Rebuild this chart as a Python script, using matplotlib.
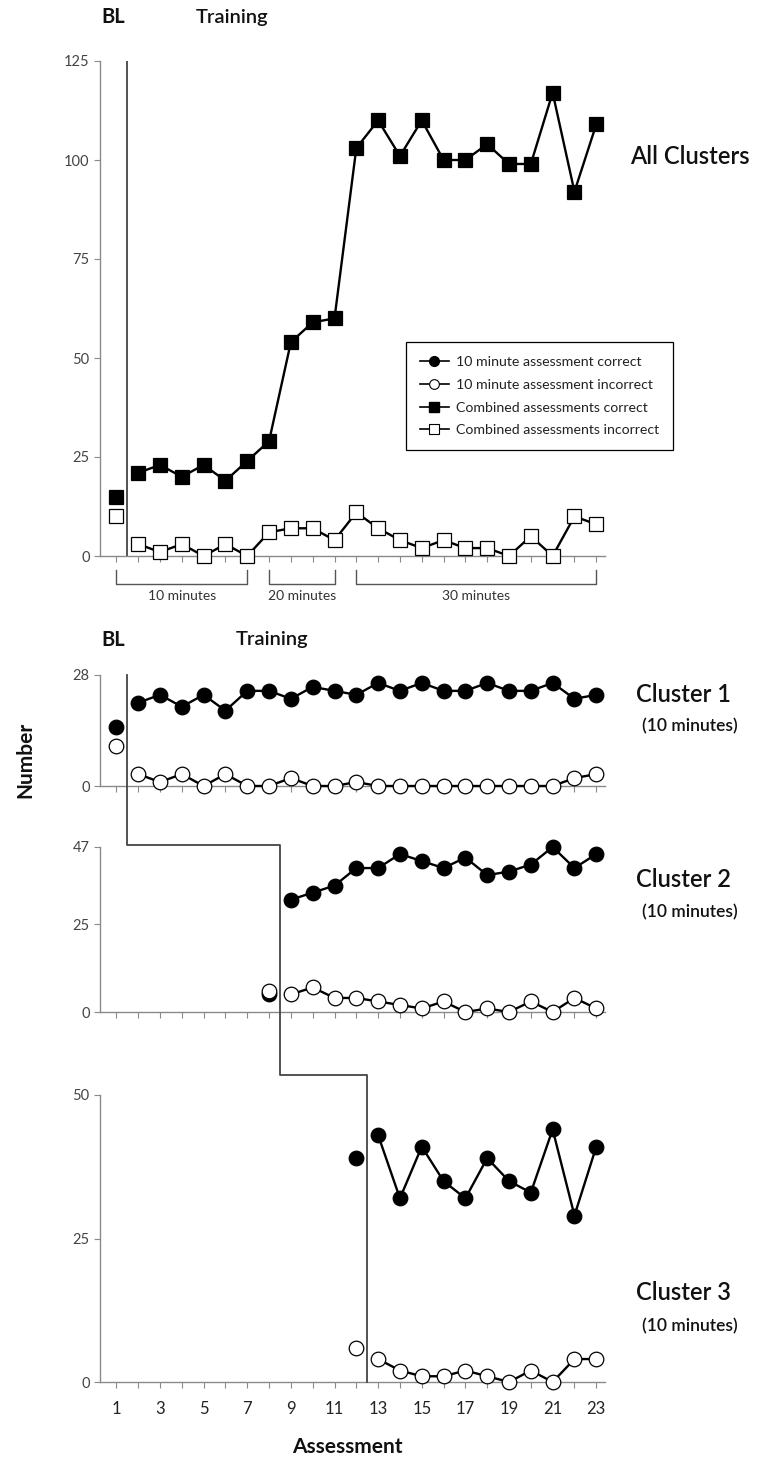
import numpy as np
import matplotlib
matplotlib.use('Agg')
import matplotlib.pyplot as plt
from matplotlib.lines import Line2D

plt.rcParams['font.family'] = ['Lato', 'DejaVu Sans']

# ---------------------------------------------------------------- data
assess = np.arange(1, 24)

# all clusters, combined assessments
all_correct = [15, 21, 23, 20, 23, 19, 24, 29, 54, 59, 60, 103, 110, 101, 110,
               100, 100, 104, 99, 99, 117, 92, 109]
all_incorrect = [10, 3, 1, 3, 0, 3, 0, 6, 7, 7, 4, 11, 7, 4, 2, 4, 2, 2, 0, 5,
                 0, 10, 8]

# cluster 1 (baseline = assessment 1)
c1_x = np.arange(1, 24)
c1_correct = [15, 21, 23, 20, 23, 19, 24, 24, 22, 25, 24, 23, 26, 24, 26, 24,
              24, 26, 24, 24, 26, 22, 23]
c1_incorrect = [10, 3, 1, 3, 0, 3, 0, 0, 2, 0, 0, 1, 0, 0, 0, 0, 0, 0, 0, 0,
                0, 2, 3]

# cluster 2 (baseline = assessment 8)
c2_x = np.arange(8, 24)
c2_correct = [5, 32, 34, 36, 41, 41, 45, 43, 41, 44, 39, 40, 42, 47, 41, 45]
c2_incorrect = [6, 5, 7, 4, 4, 3, 2, 1, 3, 0, 1, 0, 3, 0, 4, 1]

# cluster 3 (baseline = assessment 12)
c3_x = np.arange(12, 24)
c3_correct = [39, 43, 32, 41, 35, 32, 39, 35, 33, 44, 29, 41]
c3_incorrect = [6, 4, 2, 1, 1, 2, 1, 0, 2, 0, 4, 4]

# session length brackets under the top panel
bracket_start = [1, 8, 12]
bracket_end = [7, 11, 23]
bracket_labels = ['10 minutes', '20 minutes', '30 minutes']

legend_labels = ['10 minute assessment correct', '10 minute assessment incorrect',
                 'Combined assessments correct', 'Combined assessments incorrect']

# ---------------------------------------------------------------- layout
W, H = 767, 1469
fig = plt.figure(figsize=(W / 100, H / 100), dpi=100)


def fx(px):
    return px / W


def fy(py):
    return 1 - py / H


def rect(top, bottom):
    return [fx(100), fy(bottom), fx(605) - fx(100), (bottom - top) / H]


AX_GRAY = '#8a8a8a'


def style(ax, ymax, yticks):
    ax.set_xlim(0.25, 23.4)
    ax.set_ylim(0, ymax)
    for s in ['top', 'right']:
        ax.spines[s].set_visible(False)
    for s in ['left', 'bottom']:
        ax.spines[s].set_color(AX_GRAY)
        ax.spines[s].set_linewidth(1)
    ax.set_yticks(yticks)
    ax.set_xticks(assess)
    ax.set_xticklabels([])
    ax.tick_params(axis='both', color=AX_GRAY, length=4, width=0.8,
                   labelcolor='#444444', labelsize=10.5)
    ax.patch.set_alpha(0)


def draw(ax, x, y, marker, filled, n_bl=1, ms=10.5):
    fc = 'black' if filled else 'white'
    kw = dict(marker=marker, ms=ms, mfc=fc, mec='black', mew=0.9,
              color='black', lw=1.7, zorder=3, clip_on=False)
    ax.plot(x[:n_bl], y[:n_bl], ls='none', **kw)
    ax.plot(x[n_bl:], y[n_bl:], **kw)


ax0 = fig.add_axes(rect(61, 556))
ax1 = fig.add_axes(rect(675, 786))
ax2 = fig.add_axes(rect(847, 1012))
ax3 = fig.add_axes(rect(1095, 1382))

style(ax0, 125, [0, 25, 50, 75, 100, 125])
style(ax1, 28, [0, 28])
style(ax2, 47, [0, 25, 47])
style(ax3, 50, [0, 25, 50])

# ---------------------------------------------------------------- top panel
draw(ax0, assess, all_correct, 's', True, ms=10)
draw(ax0, assess, all_incorrect, 's', False, ms=10)
ax0.axvline(1.5, color='#444444', lw=1.3, zorder=1)

for a, b, lab in zip(bracket_start, bracket_end, bracket_labels):
    ax0.plot([a, a, b, b], [-3.5, -7, -7, -3.5], color='#555555', lw=1,
             clip_on=False)
    ax0.text((a + b) / 2, -8.5, lab, ha='center', va='top', fontsize=10,
             color='#333333')

handles = [
    Line2D([], [], color='black', lw=1.2, marker='o', ms=7, mfc='black', mec='black'),
    Line2D([], [], color='black', lw=1.2, marker='o', ms=7, mfc='white', mec='black', mew=0.8),
    Line2D([], [], color='black', lw=1.2, marker='s', ms=7, mfc='black', mec='black'),
    Line2D([], [], color='black', lw=1.2, marker='s', ms=7, mfc='white', mec='black', mew=0.8),
]
leg = ax0.legend(handles, legend_labels, loc='upper left',
                 bbox_to_anchor=(0.606, 0.432), fontsize=10.2, frameon=True,
                 fancybox=False, framealpha=1, edgecolor='black',
                 handlelength=2.0, labelspacing=0.75, borderpad=1.0,
                 handletextpad=0.5, borderaxespad=0)
leg.get_frame().set_linewidth(0.9)
for t in leg.get_texts():
    t.set_color('#222222')

# ---------------------------------------------------------------- clusters
draw(ax1, c1_x, c1_correct, 'o', True)
draw(ax1, c1_x, c1_incorrect, 'o', False)
draw(ax2, c2_x, c2_correct, 'o', True)
draw(ax2, c2_x, c2_incorrect, 'o', False)
draw(ax3, c3_x, c3_correct, 'o', True)
draw(ax3, c3_x, c3_incorrect, 'o', False)

ax3.set_xticklabels([str(v) if v % 2 == 1 else '' for v in assess])
ax3.tick_params(axis='x', labelsize=12, labelcolor='#222222', pad=10)

# phase change staircase across the cluster panels
steps = [(ax1, 1.5, 28), (ax2, 1.5, 47.6), (ax2, 8.5, 47.6),
         (ax3, 8.5, 53.5), (ax3, 12.5, 53.5), (ax3, 12.5, 0)]
inv = fig.transFigure.inverted()
pts = [inv.transform(ax.transData.transform((x, y))) for ax, x, y in steps]
fig.add_artist(Line2D([p[0] for p in pts], [p[1] for p in pts],
                      transform=fig.transFigure, color='#444444', lw=1.3,
                      zorder=1))

# ---------------------------------------------------------------- text
for yy, tx in [(17, 232), (640, 272)]:
    fig.text(fx(113), fy(yy), 'BL', ha='center', va='center', fontsize=14.5,
             fontweight='bold', color='#111111')
    fig.text(fx(tx), fy(yy), 'Training', ha='center', va='center',
             fontsize=14.5, fontweight='semibold', color='#111111')

fig.text(fx(630), fy(157), 'All Clusters', ha='left', va='center',
         fontsize=17, fontweight='semibold', color='#111111')
for n, (y1, y2) in enumerate([(695, 726), (879, 912), (1293, 1326)], start=1):
    fig.text(fx(683), fy(y1), 'Cluster %d' % n, ha='center', va='center',
             fontsize=17, fontweight='semibold', color='#111111')
    fig.text(fx(690), fy(y2), '(10 minutes)', ha='center', va='center',
             fontsize=12.5, fontweight='semibold', color='#111111')

fig.text(fx(25), fy(760), 'Number', ha='center', va='center', rotation=90,
         fontsize=15, fontweight='bold', color='#111111')
fig.text(fx(347), fy(1447), 'Assessment', ha='center', va='center',
         fontsize=15, fontweight='bold', color='#111111')

fig.savefig('out.png', dpi=100, facecolor='white')
